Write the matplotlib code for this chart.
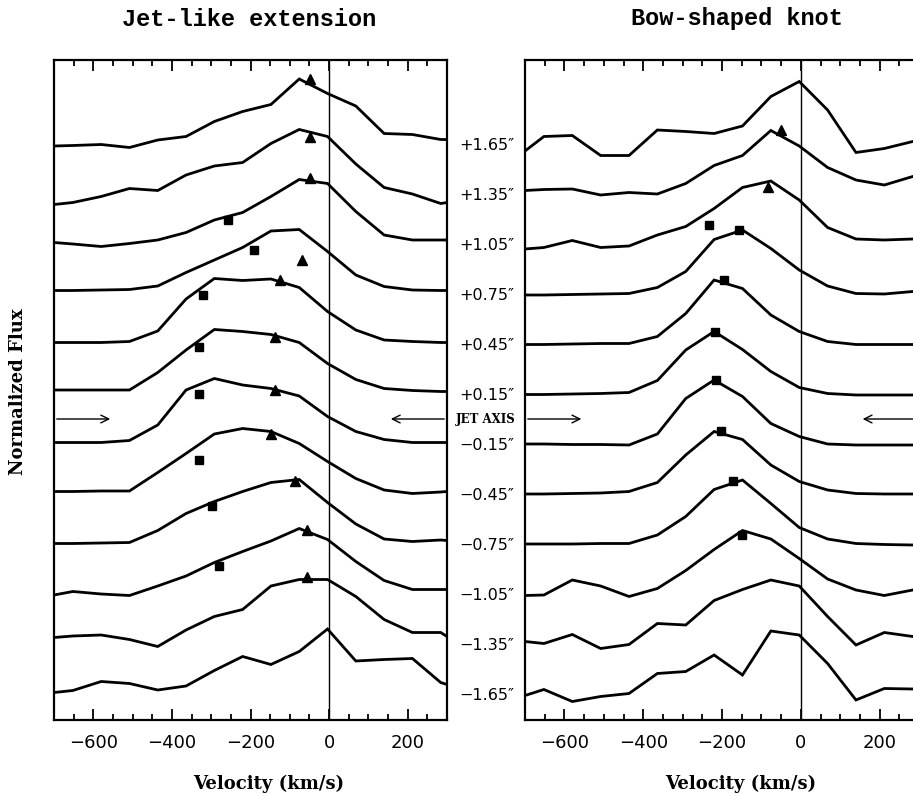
import matplotlib
matplotlib.use("Agg")
import matplotlib.pyplot as plt
from matplotlib.ticker import MultipleLocator
from matplotlib.transforms import blended_transform_factory

# ── data ──────────────────────────────────────────────────────────────────────

VEL = [-700, -652, -580, -508, -436, -364, -292, -220, -148, -76, -4, 68, 140, 212, 284, 300]

OFFSET_LABELS = ["+1.65″", "+1.35″", "+1.05″", "+0.75″", "+0.45″", "+0.15″",
                 "−0.15″", "−0.45″", "−0.75″", "−1.05″", "−1.35″", "−1.65″"]

# normalized flux, top profile first (same order as OFFSET_LABELS)
JET_FLUX = [
    [-0.02, -0.01, 0.01, -0.05, 0.10, 0.17, 0.47, 0.67, 0.81, 1.32, 1.03, 0.78, 0.23, 0.21, 0.11, 0.11],
    [-0.19, -0.15, -0.03, 0.13, 0.09, 0.40, 0.58, 0.65, 1.03, 1.31, 1.17, 0.62, 0.15, 0.02, -0.17, -0.15],
    [0.05, 0.02, -0.03, 0.03, 0.10, 0.25, 0.50, 0.65, 0.97, 1.31, 1.23, 0.67, 0.20, 0.10, 0.10, 0.10],
    [0.09, 0.09, 0.10, 0.11, 0.18, 0.45, 0.70, 0.95, 1.28, 1.31, 0.87, 0.40, 0.17, 0.10, 0.09, 0.09],
    [0.05, 0.05, 0.05, 0.07, 0.28, 0.92, 1.33, 1.29, 1.32, 1.15, 0.67, 0.30, 0.10, 0.07, 0.05, 0.05],
    [0.10, 0.10, 0.10, 0.10, 0.45, 0.90, 1.31, 1.27, 1.21, 1.05, 0.63, 0.31, 0.13, 0.09, 0.07, 0.07],
    [0.05, 0.05, 0.05, 0.09, 0.40, 1.10, 1.33, 1.20, 1.13, 0.98, 0.57, 0.27, 0.11, 0.05, 0.05, 0.05],
    [0.07, 0.07, 0.08, 0.08, 0.45, 0.83, 1.22, 1.33, 1.27, 1.03, 0.67, 0.33, 0.10, 0.03, 0.06, 0.07],
    [0.03, 0.03, 0.04, 0.05, 0.29, 0.63, 0.87, 1.07, 1.25, 1.31, 0.85, 0.42, 0.12, 0.07, 0.10, 0.09],
    [0.00, 0.07, 0.02, -0.01, 0.18, 0.38, 0.65, 0.87, 1.08, 1.33, 1.11, 0.67, 0.29, 0.11, 0.11, 0.11],
    [0.15, 0.18, 0.20, 0.11, -0.03, 0.30, 0.57, 0.71, 1.18, 1.31, 1.31, 0.97, 0.51, 0.25, 0.25, 0.17],
    [0.05, 0.09, 0.27, 0.23, 0.10, 0.18, 0.49, 0.77, 0.61, 0.87, 1.32, 0.68, 0.71, 0.73, 0.25, 0.21],
]

BOW_FLUX = [
    [-0.12, 0.17, 0.19, -0.21, -0.21, 0.30, 0.27, 0.23, 0.38, 0.97, 1.27, 0.70, -0.15, -0.07, 0.07, 0.07],
    [0.09, 0.11, 0.12, 0.00, 0.05, 0.02, 0.23, 0.59, 0.79, 1.29, 0.98, 0.55, 0.30, 0.20, 0.37, 0.37],
    [-0.08, -0.05, 0.09, -0.05, -0.02, 0.20, 0.37, 0.73, 1.15, 1.28, 0.90, 0.35, 0.12, 0.10, 0.12, 0.12],
    [0.00, 0.00, 0.01, 0.02, 0.03, 0.15, 0.47, 1.11, 1.30, 0.93, 0.50, 0.18, 0.03, 0.02, 0.07, 0.07],
    [0.01, 0.01, 0.02, 0.03, 0.03, 0.17, 0.63, 1.30, 1.13, 0.60, 0.27, 0.07, 0.01, 0.01, 0.01, 0.01],
    [0.01, 0.01, 0.02, 0.03, 0.05, 0.29, 0.90, 1.27, 0.91, 0.47, 0.15, 0.03, 0.00, 0.00, 0.00, 0.00],
    [0.02, 0.02, 0.01, 0.01, 0.00, 0.22, 0.93, 1.30, 0.97, 0.43, 0.17, 0.02, 0.00, 0.00, 0.00, 0.00],
    [0.02, 0.02, 0.03, 0.04, 0.07, 0.25, 0.80, 1.27, 1.11, 0.60, 0.27, 0.10, 0.03, 0.02, 0.02, 0.02],
    [0.02, 0.02, 0.02, 0.03, 0.03, 0.20, 0.57, 1.11, 1.30, 0.83, 0.35, 0.12, 0.03, 0.01, 0.00, 0.00],
    [-0.01, 0.00, 0.30, 0.18, -0.03, 0.13, 0.49, 0.91, 1.29, 1.12, 0.73, 0.32, 0.10, -0.01, 0.10, 0.10],
    [0.07, 0.03, 0.21, -0.07, 0.01, 0.43, 0.40, 0.89, 1.11, 1.30, 1.18, 0.57, 0.00, 0.25, 0.17, 0.17],
    [-0.01, 0.11, -0.13, -0.03, 0.03, 0.43, 0.47, 0.80, 0.40, 1.28, 1.20, 0.63, -0.10, 0.13, 0.12, 0.12],
]

# marker positions (velocity, stacked flux)
JET_TRI_V = [-48, -48, -48, -70, -126, -137, -137, -148, -87, -57, -57]
JET_TRI_Y = [12.33, 11.17, 10.35, 8.70, 8.30, 7.17, 6.11, 5.23, 4.29, 3.30, 2.37]
JET_SQ_V = [-256, -191, -320, -330, -330, -330, -297, -279]
JET_SQ_Y = [9.50, 8.90, 8.00, 6.97, 6.03, 4.71, 3.78, 2.59]

BOW_TRI_V = [-51, -83]
BOW_TRI_Y = [11.30, 10.17]
BOW_SQ_V = [-232, -158, -196, -217, -215, -202, -173, -150]
BOW_SQ_Y = [9.41, 9.30, 8.30, 7.27, 6.30, 5.29, 4.29, 3.21]

JET_AXIS_Y = 5.52

# ── figure ────────────────────────────────────────────────────────────────────

fig = plt.figure(figsize=(9.13, 7.97), dpi=100)
ax_l = fig.add_axes([54 / 913, 77 / 797, 393 / 913, 660.5 / 797])
ax_r = fig.add_axes([525 / 913, 77 / 797, 394 / 913, 660.5 / 797])

n = len(OFFSET_LABELS)

def draw_panel(ax, flux, tri_v, tri_y, sq_v, sq_y):
    for i, prof in enumerate(flux):
        off = n - 1 - i
        ax.plot(VEL, [f + off for f in prof], color="black", lw=2.0,
                solid_joinstyle="miter")
    ax.axvline(0, color="black", lw=1.0)
    ax.plot(tri_v, tri_y, "^", color="black", ms=7, ls="none")
    ax.plot(sq_v, sq_y, "s", color="black", ms=5.5, ls="none")

    # jet axis arrows
    arrow = dict(arrowstyle="->", color="black", lw=1.0, mutation_scale=14)
    ax.annotate("", xy=(-550, JET_AXIS_Y), xytext=(-700, JET_AXIS_Y), arrowprops=arrow)
    ax.annotate("", xy=(150, JET_AXIS_Y), xytext=(300, JET_AXIS_Y), arrowprops=arrow)

    ax.set_xlim(-700, 300)
    ax.set_ylim(-0.5, 12.71)
    ax.xaxis.set_major_locator(MultipleLocator(200))
    ax.xaxis.set_minor_locator(MultipleLocator(50))
    ax.tick_params(axis="x", which="both", direction="in", top=True, bottom=True,
                   width=1.3, labelsize=13, pad=10)
    ax.tick_params(axis="x", which="major", length=8)
    ax.tick_params(axis="x", which="minor", length=4)
    ax.set_yticks([])
    for s in ax.spines.values():
        s.set_linewidth(1.6)
    ax.set_xlabel("Velocity (km/s)", family="DejaVu Serif", fontweight="bold", fontsize=13)

draw_panel(ax_l, JET_FLUX, JET_TRI_V, JET_TRI_Y, JET_SQ_V, JET_SQ_Y)
draw_panel(ax_r, BOW_FLUX, BOW_TRI_V, BOW_TRI_Y, BOW_SQ_V, BOW_SQ_Y)

# right panel runs off the page edge in the original
ax_r.spines["right"].set_visible(False)

ax_l.xaxis.set_label_coords(0.547, -0.083)
ax_r.xaxis.set_label_coords(0.548, -0.083)

# ── titles and side labels ────────────────────────────────────────────────────

fig.text(249 / 913, 1 - 19 / 797, "Jet-like extension", family="Liberation Mono",
         fontweight="bold", fontsize=17, ha="center", va="center")
fig.text(737 / 913, 1 - 19 / 797, "Bow-shaped knot", family="Liberation Mono",
         fontweight="bold", fontsize=17, ha="center", va="center")
fig.text(18 / 913, 1 - 392 / 797, "Normalized Flux", family="DejaVu Serif",
         fontweight="bold", fontsize=13, rotation=90, ha="center", va="center")

tr = blended_transform_factory(fig.transFigure, ax_l.transData)
for i, lab in enumerate(OFFSET_LABELS):
    ax_l.text(487 / 913, n - 1 - i, lab, transform=tr, ha="center", va="center",
              fontsize=11.5, clip_on=False)
ax_l.text(486 / 913, JET_AXIS_Y, "JET AXIS", transform=tr, ha="center", va="center",
          family="DejaVu Serif", fontweight="bold", fontsize=8.5, clip_on=False)

fig.savefig("out.png", dpi=100)
